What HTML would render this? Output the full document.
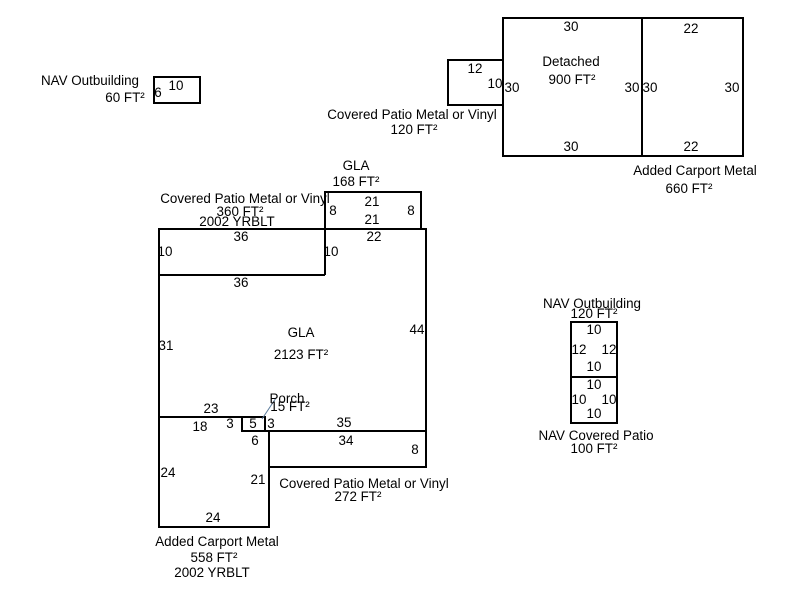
<!DOCTYPE html>
<html><head><style>body{margin:0;background:#fff}</style></head><body>
<svg width="800" height="600" xmlns="http://www.w3.org/2000/svg" font-family="Liberation Sans, sans-serif" font-size="13.4" fill="#000">
<g fill="none" stroke="#000" stroke-width="2">
<rect x="154" y="77" width="46" height="26"/>
<rect x="448" y="60" width="55" height="45"/>
<rect x="503" y="18" width="139" height="138"/>
<rect x="642" y="18" width="101" height="138"/>
<rect x="325" y="192" width="96" height="37"/>
<polyline points="159,417 159,229 426,229 426,467"/>
<line x1="159" y1="417" x2="242" y2="417"/>
<line x1="159" y1="275" x2="325" y2="275"/>
<line x1="325" y1="229" x2="325" y2="275"/>
<rect x="242" y="417" width="23" height="14"/>
<polyline points="265,431 426,431 426,467 269,467 269,431"/>
<polyline points="159,417 159,527 269,527 269,467"/>
<rect x="571" y="322" width="46" height="55"/>
<rect x="571" y="377" width="46" height="46"/>
</g>
<line x1="262" y1="419" x2="276" y2="398" stroke="#5a7a9a" stroke-width="1"/>
<g text-anchor="middle">
<text x="90" y="85">NAV Outbuilding</text><text x="125" y="102">60 FT²</text>
<text x="176" y="90">10</text><text x="158" y="97">6</text>
<text x="475" y="73">12</text><text x="495" y="88">10</text>
<text x="412" y="119">Covered Patio Metal or Vinyl</text><text x="414" y="134">120 FT²</text>
<text x="571" y="31">30</text><text x="571" y="151">30</text>
<text x="571" y="66">Detached</text><text x="572" y="84">900 FT²</text>
<text x="512" y="92">30</text><text x="632" y="92">30</text><text x="650" y="92">30</text><text x="732" y="92">30</text>
<text x="691" y="33">22</text><text x="691" y="151">22</text>
<text x="695" y="175">Added Carport Metal</text><text x="689" y="193">660 FT²</text>
<text x="356" y="170">GLA</text><text x="356" y="186">168 FT²</text>
<text x="245" y="203">Covered Patio Metal or Vinyl</text><text x="240" y="216">360 FT²</text><text x="237" y="226">2002 YRBLT</text>
<text x="372" y="206">21</text><text x="372" y="224">21</text><text x="333" y="215">8</text><text x="411" y="215">8</text>
<text x="241" y="241">36</text><text x="374" y="241">22</text>
<text x="165" y="256">10</text><text x="331" y="256">10</text>
<text x="241" y="287">36</text>
<text x="301" y="337">GLA</text><text x="301" y="359">2123 FT²</text>
<text x="166" y="350">31</text><text x="417" y="334">44</text>
<text x="287" y="403">Porch</text><text x="290" y="411">15 FT²</text>
<text x="211" y="413">23</text><text x="200" y="431">18</text><text x="230" y="428">3</text><text x="253" y="428">5</text><text x="271" y="428">3</text>
<text x="344" y="427">35</text><text x="346" y="445">34</text><text x="255" y="445">6</text><text x="415" y="454">8</text>
<text x="168" y="477">24</text><text x="258" y="484">21</text><text x="213" y="522">24</text>
<text x="364" y="488">Covered Patio Metal or Vinyl</text><text x="358" y="501">272 FT²</text>
<text x="217" y="546">Added Carport Metal</text><text x="214" y="562">558 FT²</text><text x="212" y="577">2002 YRBLT</text>
<text x="592" y="308">NAV Outbuilding</text><text x="594" y="318">120 FT²</text>
<text x="594" y="334">10</text><text x="579" y="354">12</text><text x="609" y="354">12</text><text x="594" y="371">10</text>
<text x="594" y="389">10</text><text x="579" y="404">10</text><text x="609" y="404">10</text><text x="594" y="418">10</text>
<text x="596" y="440">NAV Covered Patio</text><text x="594" y="453">100 FT²</text>
</g>
</svg>
</body></html>
